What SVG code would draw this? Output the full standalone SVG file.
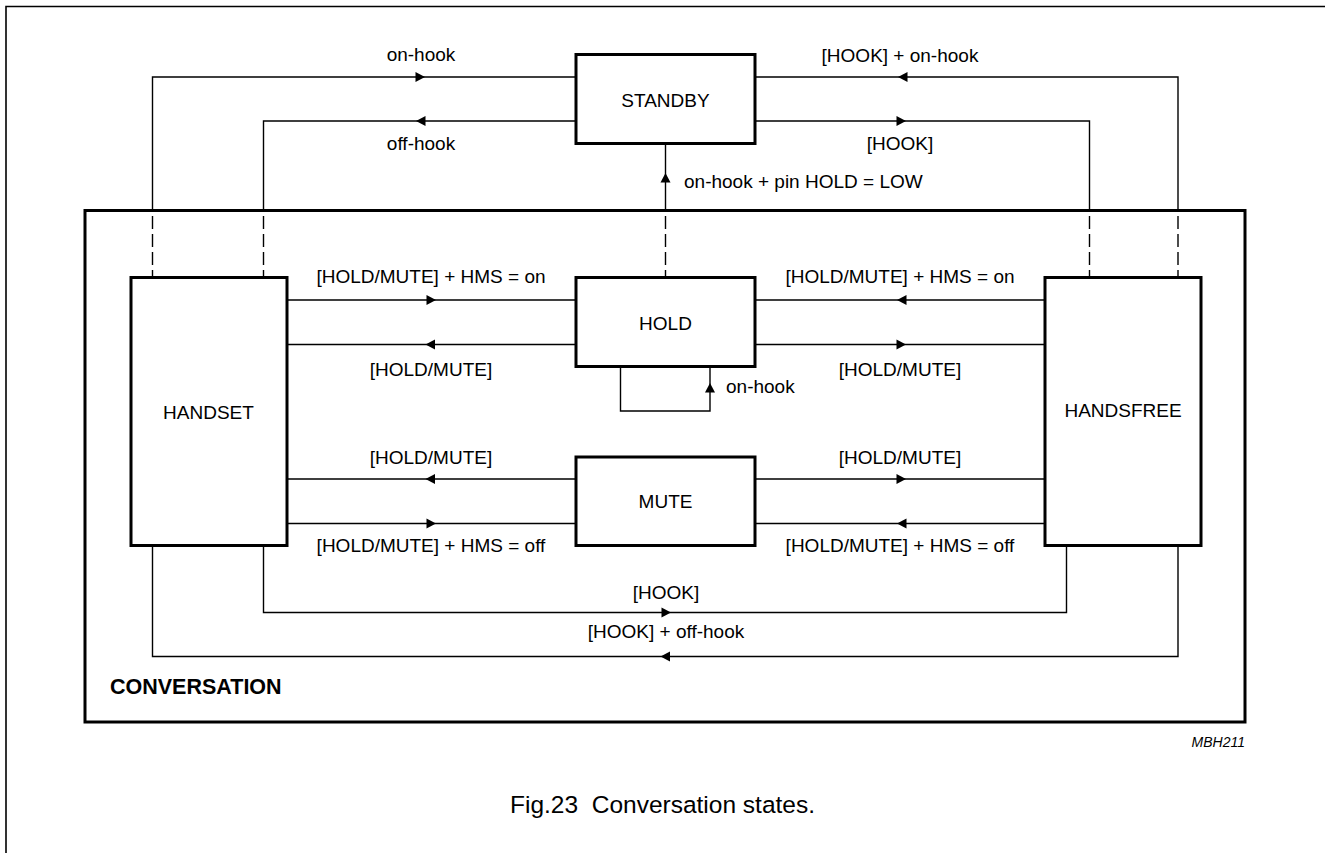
<svg xmlns="http://www.w3.org/2000/svg" xmlns:xlink="http://www.w3.org/1999/xlink" width="1325" height="853" viewBox="0 0 1325 853">
<style>
  .box { fill: #fff; stroke: #000; stroke-width: 3; }
  .frame { fill: none; stroke: #000; stroke-width: 3; }
  .wire { fill: none; stroke: #000; stroke-width: 1.4; }
  .dash { fill: none; stroke: #000; stroke-width: 1.4; stroke-dasharray: 13 5; }
  .lbl { font-family: "Liberation Sans", Arial, sans-serif; font-size: 19px; fill: #000; }
  .mid { text-anchor: middle; }
  .bold { font-weight: bold; font-size: 21.5px; }
  .cap { font-size: 24.5px; white-space: pre; }
  .ref { font-style: italic; font-size: 14px; text-anchor: end; }
</style>
<defs>
  <path id="ah" d="M0,0 L-9.5,-5 L-9.5,5 Z" fill="#000"/>
</defs>
<rect width="1325" height="853" fill="#fff"/>
<path d="M6,853 V6.5 H1325" fill="none" stroke="#000" stroke-width="1.6"/>

<g id="conversation">
  <rect class="frame" x="85" y="210.5" width="1160" height="511.5"/>
  <text class="lbl bold" x="110" y="694">CONVERSATION</text>
</g>

<g id="connectors">
  <!-- top: standby connections -->
  <path class="wire" d="M152.5,210 V77 H576"/>
  <use xlink:href="#ah" transform="translate(425,77)"/>
  <path class="wire" d="M576,121 H263.5 V210"/>
  <use xlink:href="#ah" transform="translate(416,121) rotate(180)"/>
  <path class="wire" d="M1178,210 V77 H755"/>
  <use xlink:href="#ah" transform="translate(898,77) rotate(180)"/>
  <path class="wire" d="M755,121 H1089.5 V210"/>
  <use xlink:href="#ah" transform="translate(906,121)"/>
  <path class="wire" d="M665.5,210 V144"/>
  <use xlink:href="#ah" transform="translate(665.5,173) rotate(-90)"/>
  <!-- dashed continuations inside conversation -->
  <path class="dash" d="M152.5,216 V277 M263.5,216 V277 M665.5,216 V277 M1089.5,216 V277 M1178,216 V277"/>
  <!-- handset <-> hold / mute -->
  <path class="wire" d="M287,300 H576 M287,344.5 H576 M287,479 H576 M287,523.5 H576"/>
  <use xlink:href="#ah" transform="translate(436,300)"/>
  <use xlink:href="#ah" transform="translate(425.5,344.5) rotate(180)"/>
  <use xlink:href="#ah" transform="translate(425.5,479) rotate(180)"/>
  <use xlink:href="#ah" transform="translate(436,523.5)"/>
  <!-- hold / mute <-> handsfree -->
  <path class="wire" d="M755,300 H1045 M755,344.5 H1045 M755,479 H1045 M755,523.5 H1045"/>
  <use xlink:href="#ah" transform="translate(897,300) rotate(180)"/>
  <use xlink:href="#ah" transform="translate(906,344.5)"/>
  <use xlink:href="#ah" transform="translate(906,479)"/>
  <use xlink:href="#ah" transform="translate(897,523.5) rotate(180)"/>
  <!-- hold self loop -->
  <path class="wire" d="M620.5,367 V411 H710 V367"/>
  <use xlink:href="#ah" transform="translate(710,383) rotate(-90)"/>
  <!-- bottom hook connections -->
  <path class="wire" d="M263.5,545 V612.5 H1066.5 V545"/>
  <use xlink:href="#ah" transform="translate(671,612.5)"/>
  <path class="wire" d="M1178,545 V656.5 H152.5 V545"/>
  <use xlink:href="#ah" transform="translate(660.5,656.5) rotate(180)"/>

  <!-- connector labels -->
  <text class="lbl mid" x="421" y="60.5">on-hook</text>
  <text class="lbl mid" x="421" y="149.5">off-hook</text>
  <text class="lbl mid" x="900" y="61.5">[HOOK] + on-hook</text>
  <text class="lbl mid" x="900" y="150">[HOOK]</text>
  <text class="lbl" x="684" y="188">on-hook + pin HOLD = LOW</text>
  <text class="lbl mid" x="431" y="283">[HOLD/MUTE] + HMS = on</text>
  <text class="lbl mid" x="431" y="376">[HOLD/MUTE]</text>
  <text class="lbl mid" x="431" y="463.5">[HOLD/MUTE]</text>
  <text class="lbl mid" x="431" y="551.5">[HOLD/MUTE] + HMS = off</text>
  <text class="lbl mid" x="900" y="283">[HOLD/MUTE] + HMS = on</text>
  <text class="lbl mid" x="900" y="376">[HOLD/MUTE]</text>
  <text class="lbl mid" x="900" y="463.5">[HOLD/MUTE]</text>
  <text class="lbl mid" x="900" y="551.5">[HOLD/MUTE] + HMS = off</text>
  <text class="lbl" x="726" y="392.5">on-hook</text>
  <text class="lbl mid" x="666" y="599">[HOOK]</text>
  <text class="lbl mid" x="666" y="638">[HOOK] + off-hook</text>
</g>

<g id="standby">
  <rect class="box" x="576" y="54.5" width="179" height="89"/>
  <text class="lbl mid" x="665.5" y="107">STANDBY</text>
</g>
<g id="hold">
  <rect class="box" x="576" y="277.5" width="179" height="89"/>
  <text class="lbl mid" x="665.5" y="330">HOLD</text>
</g>
<g id="mute">
  <rect class="box" x="576" y="457" width="179" height="88.5"/>
  <text class="lbl mid" x="665.5" y="508">MUTE</text>
</g>
<g id="handset">
  <rect class="box" x="131" y="277.5" width="156" height="268"/>
  <text class="lbl mid" x="208.5" y="418.5">HANDSET</text>
</g>
<g id="handsfree">
  <rect class="box" x="1045" y="277.5" width="156" height="268"/>
  <text class="lbl mid" x="1123" y="417">HANDSFREE</text>
</g>

<text class="lbl ref" x="1245" y="747">MBH211</text>
<text class="lbl cap" x="510" y="813" xml:space="preserve">Fig.23  Conversation states.</text>
</svg>
